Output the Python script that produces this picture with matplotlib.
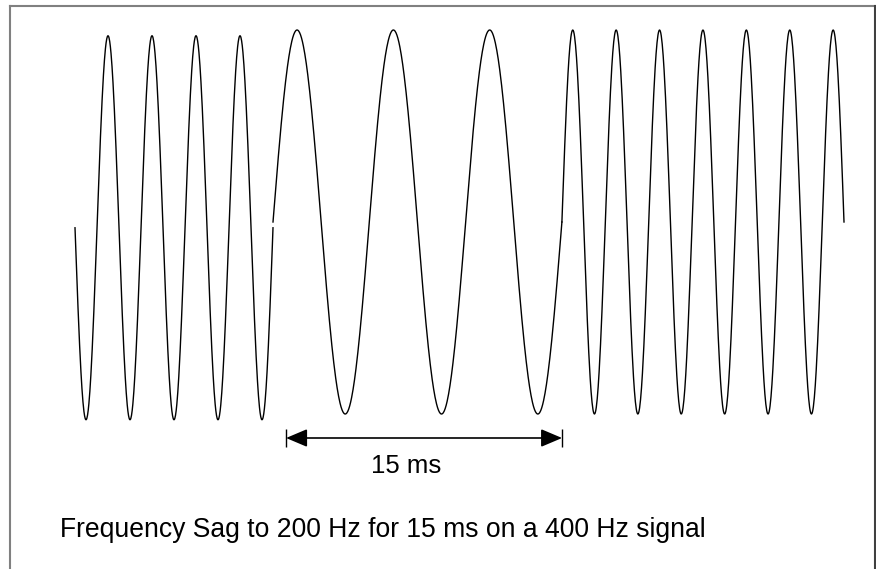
import numpy as np
import matplotlib
matplotlib.use('Agg')
from matplotlib import pyplot as plt
from matplotlib.lines import Line2D

plt.rcParams['font.family'] = ['Liberation Sans', 'DejaVu Sans']

# waveform segments: 400 Hz, sag to 200 Hz, back to 400 Hz
seg_freq_hz = [400, 200, 400]
seg_cycles = [4.5, 3, 6.5]
seg_ms = [10.76, 15.7, 15.33]
seg_offset = [-0.03, 0.0, 0.0]
seg_sign = [-1, 1, 1]

sag_ms = 15
sag_start_ms = 11.47
label_sag = '15 ms'
caption = 'Frequency Sag to 200 Hz for 15 ms on a 400 Hz signal'

# pixel mapping of the original drawing
W, H = 876, 569
px_per_ms = 769 / sum(seg_ms)
x0_px = 75
yc_px = 222
amp_px = 192

fig = plt.figure(figsize=(W / 100, H / 100), dpi=100)
ax = fig.add_axes([0, 0, 1, 1])
ax.set_xlim(-x0_px / px_per_ms, (W - x0_px) / px_per_ms)
ax.set_ylim((yc_px - H) / amp_px, yc_px / amp_px)
ax.axis('off')

t_start = 0.0
for f, n, d, off, sg in zip(seg_freq_hz, seg_cycles, seg_ms, seg_offset, seg_sign):
    t = np.linspace(0, d, 600)
    y = sg * np.sin(2 * np.pi * n * t / d) + off
    ax.plot(t + t_start, y, color='black', lw=1.0)
    t_start += d

# 15 ms dimension arrow
ya = (yc_px - 438) / amp_px
a0, a1 = sag_start_ms, sag_start_ms + sag_ms
ax.annotate('', xy=(a1, ya), xytext=(a0, ya),
            arrowprops=dict(arrowstyle='<|-|>,head_length=13,head_width=5.5',
                            mutation_scale=1, color='black', lw=1.2,
                            shrinkA=0, shrinkB=0))
ax.vlines([a0, a1], ya - 9 / amp_px, ya + 9 / amp_px, color='black', lw=1)
ax.text((406 - x0_px) / px_per_ms, (yc_px - 473) / amp_px, label_sag,
        ha='center', va='baseline', fontsize=18.5)

ax.text((60 - x0_px) / px_per_ms, (yc_px - 537) / amp_px, caption,
        ha='left', va='baseline', fontsize=19.1)

# frame
fig.add_artist(Line2D([10 / W, 10 / W], [0, 1 - 6 / H], color='#808080', lw=1.5,
                      transform=fig.transFigure))
fig.add_artist(Line2D([10 / W, 1], [1 - 6 / H, 1 - 6 / H], color='#808080', lw=1.5,
                      transform=fig.transFigure))
fig.add_artist(Line2D([875 / W, 875 / W], [0, 1 - 6 / H], color='#404040', lw=1.5,
                      transform=fig.transFigure))

fig.savefig('out.png', dpi=100)
